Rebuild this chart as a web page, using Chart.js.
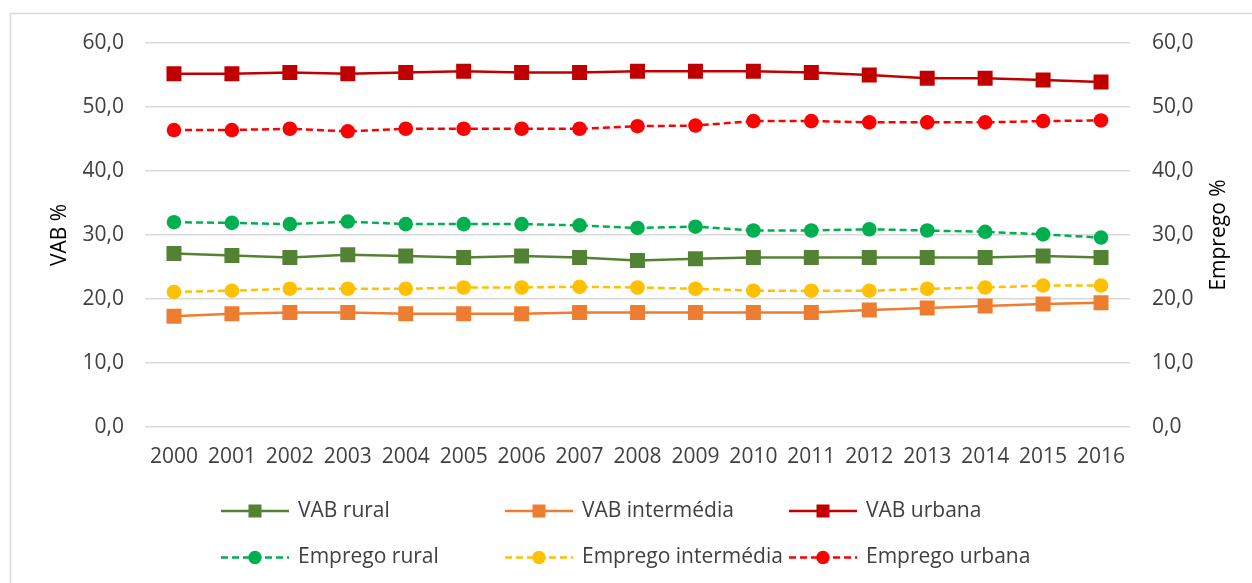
<!DOCTYPE html>
<html><head><meta charset="utf-8">
<script src="https://cdn.jsdelivr.net/npm/chart.js@4.4.1/dist/chart.umd.min.js"></script>
<style>html,body{margin:0;padding:0;background:#fff;}canvas{display:block;}</style>
</head><body>
<canvas id="c" width="1252" height="583"></canvas>
<script>
const years = ['2000','2001','2002','2003','2004','2005','2006','2007','2008','2009','2010','2011','2012','2013','2014','2015','2016'];
const vabRural        = [27.1,26.8,26.5,26.9,26.7,26.5,26.7,26.5,26.0,26.3,26.5,26.5,26.5,26.5,26.5,26.7,26.5];
const vabIntermedia   = [17.3,17.7,17.9,17.9,17.7,17.7,17.7,17.9,17.9,17.9,17.9,17.9,18.3,18.6,18.9,19.2,19.4];
const vabUrbana       = [55.2,55.2,55.4,55.2,55.4,55.6,55.4,55.4,55.6,55.6,55.6,55.4,55.0,54.5,54.5,54.2,53.9];
const empRural        = [32.0,31.9,31.7,32.1,31.7,31.7,31.7,31.5,31.1,31.3,30.7,30.7,30.9,30.7,30.5,30.1,29.6];
const empIntermedia   = [21.1,21.3,21.6,21.6,21.6,21.8,21.8,21.9,21.8,21.6,21.3,21.3,21.3,21.6,21.8,22.1,22.1];
const empUrbana       = [46.4,46.4,46.6,46.2,46.6,46.6,46.6,46.6,47.0,47.1,47.8,47.8,47.6,47.6,47.6,47.8,47.9];
const seriesLabels = ['VAB rural','VAB intermédia','VAB urbana','Emprego rural','Emprego intermédia','Emprego urbana'];
const axisMin = 0, axisMax = 60, axisStep = 10;
const leftTitle = 'VAB %', rightTitle = 'Emprego %';

const FONT = "'Open Sans', sans-serif";
const TXT = '#404040';
const colors = ['#548235','#ED7D31','#C00000','#00B050','#FFC000','#FF0000'];
const values = [vabRural, vabIntermedia, vabUrbana, empRural, empIntermedia, empUrbana];
const DASH = [7,4];

const datasets = values.map((v,i)=>{
  const isEmp = i >= 3;
  return {
    label: seriesLabels[i],
    data: v,
    yAxisID: isEmp ? 'y1' : 'y',
    borderColor: colors[i],
    backgroundColor: colors[i],
    pointBackgroundColor: colors[i],
    pointBorderColor: colors[i],
    pointBorderWidth: 0,
    borderWidth: 2.5,
    borderDash: isEmp ? DASH : [],
    pointStyle: isEmp ? 'circle' : 'rect',
    pointRadius: isEmp ? 7.3 : 10.6,
    pointHoverRadius: isEmp ? 7.3 : 10.6,
    tension: 0,
    fill: false
  };
});

const fmt = v => Number(v).toFixed(1).replace('.', ',');

const framePlugin = {
  id: 'frame',
  beforeDraw(chart){
    const ctx = chart.ctx;
    ctx.save();
    ctx.fillStyle = '#fff';
    ctx.fillRect(0,0,chart.width,chart.height);
    ctx.strokeStyle = '#d9d9d9';
    ctx.lineWidth = 1.5;
    ctx.beginPath();
    ctx.moveTo(10.5, chart.height);
    ctx.lineTo(10.5, 13.5);
    ctx.lineTo(chart.width, 13.5);
    ctx.stroke();
    ctx.restore();
  }
};

const LEG = {x0: 221, colW: 284, y0: 511, rowH: 46.5, lineLen: 68, textOff: 77};
const legendPlugin = {
  id: 'xlLegend',
  afterDraw(chart){
    const ctx = chart.ctx;
    chart.data.datasets.forEach((ds,i)=>{
      const col = i % 3, row = Math.floor(i/3);
      const x0 = LEG.x0 + col*LEG.colW;
      const y = LEG.y0 + row*LEG.rowH;
      ctx.save();
      ctx.strokeStyle = ds.borderColor;
      ctx.lineWidth = ds.borderWidth;
      ctx.setLineDash(ds.borderDash || []);
      ctx.beginPath();
      ctx.moveTo(x0, y);
      ctx.lineTo(x0 + LEG.lineLen, y);
      ctx.stroke();
      ctx.setLineDash([]);
      ctx.fillStyle = ds.backgroundColor;
      const cx = x0 + LEG.lineLen/2;
      if (ds.pointStyle === 'rect') {
        ctx.fillRect(cx-6.5, y-6.5, 13, 13);
      } else {
        ctx.beginPath(); ctx.arc(cx, y, 6.7, 0, Math.PI*2); ctx.fill();
      }
      ctx.fillStyle = TXT;
      ctx.font = "21px " + FONT;
      ctx.textBaseline = 'middle';
      ctx.textAlign = 'left';
      ctx.fillText(ds.label, x0 + LEG.textOff, y);
      ctx.restore();
    });
    // right axis title, rotated like the left one
    const a = chart.chartArea;
    ctx.save();
    ctx.translate(1219, (a.top + a.bottom)/2);
    ctx.rotate(-Math.PI/2);
    ctx.fillStyle = '#000';
    ctx.font = "21px " + FONT;
    ctx.textAlign = 'center';
    ctx.textBaseline = 'middle';
    ctx.fillText(rightTitle, 0, 0);
    ctx.restore();
  }
};

new Chart(document.getElementById('c'), {
  type: 'line',
  data: { labels: years, datasets },
  options: {
    responsive: false,
    animation: false,
    devicePixelRatio: 1,
    layout: { padding: { top: 43, left: 0, right: 0, bottom: 0 } },
    plugins: { legend: { display: false }, tooltip: { enabled: false } },
    scales: {
      x: {
        type: 'category',
        offset: true,
        grid: { display: false, drawTicks: false },
        border: { display: false },
        ticks: { color: TXT, font: { family: FONT, size: 21 }, padding: 17, maxRotation: 0, autoSkip: false },
        afterFit(s){ s.height = 156; }
      },
      y: {
        position: 'left',
        min: axisMin, max: axisMax,
        grid: { color: '#d9d9d9', lineWidth: 1.5, drawTicks: false },
        border: { display: false },
        ticks: { stepSize: axisStep, padding: 21, color: TXT, font: { family: FONT, size: 21 }, callback: fmt },
        title: { display: true, text: leftTitle, color: '#000', font: { family: FONT, size: 21 }, padding: { top: 47, bottom: 0 } },
        afterFit(s){ s.width = 145; }
      },
      y1: {
        position: 'right',
        min: axisMin, max: axisMax,
        grid: { display: false, drawTicks: false },
        border: { display: false },
        ticks: { stepSize: axisStep, padding: 22, color: TXT, font: { family: FONT, size: 21 }, callback: fmt },
        afterFit(s){ s.width = 122; }
      }
    }
  },
  plugins: [framePlugin, legendPlugin]
});
</script>
</body></html>
